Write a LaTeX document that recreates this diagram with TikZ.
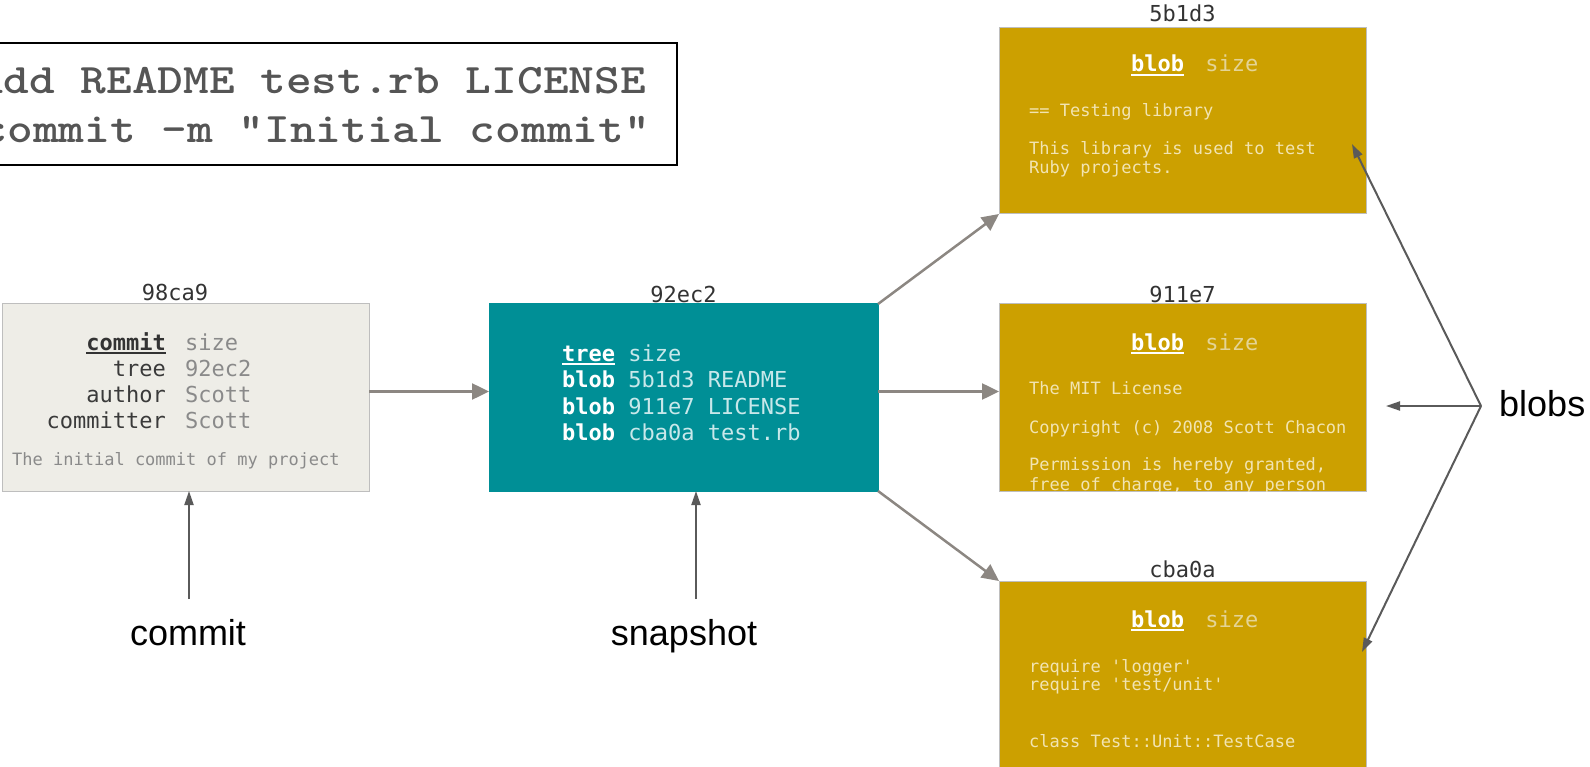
\documentclass[tikz,border=0pt]{standalone}
\usepackage{fontspec}
\usepackage{graphicx}
\setmainfont{Liberation Sans}
\newfontfamily\codefont{DejaVu Sans Mono}
\usetikzlibrary{arrows.meta}

\definecolor{commitfill}{RGB}{238,237,231}
\definecolor{boxedge}{RGB}{190,190,190}
\definecolor{treefill}{RGB}{0,143,150}
\definecolor{blobfill}{RGB}{204,160,0}
\definecolor{hashtext}{RGB}{51,51,51}
\definecolor{keytext}{RGB}{58,58,58}
\definecolor{valtext}{RGB}{138,138,138}
\definecolor{treeval}{RGB}{200,232,234}
\definecolor{blobsize}{RGB}{228,212,150}
\definecolor{blobbody}{RGB}{242,228,178}
\definecolor{linkgray}{RGB}{140,135,130}
\definecolor{notegray}{RGB}{90,90,90}
\definecolor{cmdtext}{RGB}{85,85,85}

% underline drawn as a rule a little below the baseline
\newcommand\undl[1]{\sbox0{#1}\rlap{\usebox0}\rule[-4pt]{\wd0}{1.8pt}}
% header line of a blob object
\newcommand\blobhead{\textbf{\undl{blob}}\ \hspace{8pt}{\color{blobsize}size}}

\tikzset{
  objbox/.style={rectangle, draw=boxedge, line width=1pt, inner sep=0pt,
    outer sep=0pt, anchor=north west},
  hashlbl/.style={font=\codefont\fontsize{22}{26}\selectfont, text=hashtext,
    inner sep=0pt, anchor=base},
  field/.style={font=\codefont\fontsize{22}{26}\selectfont, inner sep=0pt,
    anchor=base west},
  keyfield/.style={field, anchor=base east, text=keytext},
  valfield/.style={field, text=valtext},
  bodytxt/.style={font=\codefont\fontsize{17}{20}\selectfont, text=blobbody,
    inner sep=0pt, anchor=base west},
  link/.style={draw=linkgray, line width=2.5pt, -{Triangle[length=17pt,width=16pt]}},
  note/.style={draw=notegray, line width=2pt, -{Triangle[length=14pt,width=9pt]}},
  notelbl/.style={font=\fontsize{36}{40}\selectfont, text=black, inner sep=0pt},
  cmdline/.style={font=\ttfamily\bfseries\fontsize{42}{48}\selectfont,
    text=cmdtext, inner sep=0pt, anchor=base east},
}

\begin{document}
\begin{tikzpicture}[x=1pt,y=-1pt]
\clip (0,0) rectangle (1590,767);

% command box
\node[draw=black, line width=2pt, fill=white, inner sep=0pt, outer sep=0pt,
  minimum width=690pt, minimum height=122pt, anchor=north west] (cmdbox) at (-13,43) {};
\node[cmdline] (cmdadd) at (646,94) {\scalebox{1.165}[1]{add README test.rb LICENSE}};
\node[cmdline] (cmdcommit) at (650,143) {\scalebox{1.165}[1]{commit -m "Initial commit"}};

% object boxes
\node[objbox, fill=commitfill, minimum width=367pt, minimum height=187pt] (commitbox) at (2,304) {};
\node[objbox, fill=treefill, draw=treefill, minimum width=389pt, minimum height=187pt] (treebox) at (489,304) {};
\node[objbox, fill=blobfill, minimum width=367pt, minimum height=186pt] (blobA) at (999,28) {};
\node[objbox, fill=blobfill, minimum width=367pt, minimum height=187pt] (blobB) at (999,304) {};
\node[objbox, fill=blobfill, minimum width=367pt, minimum height=219pt] (blobC) at (999,581) {};

% object hashes
\node[hashlbl] (h98ca9) at (175,301) {98ca9};
\node[hashlbl] (h92ec2) at (683.5,302) {92ec2};
\node[hashlbl] (h5b1d3) at (1182.5,22) {5b1d3};
\node[hashlbl] (h911e7) at (1182.5,302) {911e7};
\node[hashlbl] (hcba0a) at (1182.5,577) {cba0a};

% commit object
\node[keyfield, text=hashtext] (ck1) at (166,350) {\textbf{\undl{commit}}};
\node[keyfield] (ck2) at (166,376) {tree};
\node[keyfield] (ck3) at (166,402) {author};
\node[keyfield] (ck4) at (166,428) {committer};
\node[valfield] (cv1) at (185,350) {size};
\node[valfield] (cv2) at (185,376) {92ec2};
\node[valfield] (cv3) at (185,402) {Scott};
\node[valfield] (cv4) at (185,428) {Scott};
\node[bodytxt, text=valtext] (cmsg) at (12,465) {The initial commit of my project};

% tree object
\node[field, text=white] (tl1) at (562,361) {\textbf{\undl{tree}} {\color{treeval}size}};
\node[field, text=white] (tl2) at (562,387) {\textbf{blob} {\color{treeval}5b1d3 README}};
\node[field, text=white] (tl3) at (562,414) {\textbf{blob} {\color{treeval}911e7 LICENSE}};
\node[field, text=white] (tl4) at (562,440) {\textbf{blob} {\color{treeval}cba0a test.rb}};

% blob 5b1d3
\node[field, text=white] (ahead) at (1131,72) {\blobhead};
\node[bodytxt] (a1) at (1029,117) {== Testing library};
\node[bodytxt] (a2) at (1029,155) {This library is used to test};
\node[bodytxt] (a3) at (1029,174) {Ruby projects.};

% blob 911e7 (text runs past the bottom edge)
\node[field, text=white] (bhead) at (1131,350) {\blobhead};
\begin{scope}
  \clip (blobB.north west) rectangle (blobB.south east);
  \node[bodytxt] (b1) at (1029,394) {The MIT License};
  \node[bodytxt] (b2) at (1029,433) {Copyright (c) 2008 Scott Chacon};
  \node[bodytxt] (b3) at (1029,470) {Permission is hereby granted,};
  \node[bodytxt] (b4) at (1029,490) {free of charge, to any person};
\end{scope}

% blob cba0a
\node[field, text=white] (chead) at (1131,627) {\blobhead};
\node[bodytxt] (c1) at (1029,672) {require 'logger'};
\node[bodytxt] (c2) at (1029,690) {require 'test/unit'};
\node[bodytxt] (c3) at (1029,747) {class Test::Unit::TestCase};

% references between objects
\draw[link] ([yshift=6pt]commitbox.east) -- ([yshift=6pt]treebox.west);
\draw[link] ([yshift=6pt]treebox.east) -- ([yshift=6pt]blobB.west);
\draw[link] (treebox.north east) -- (blobA.south west);
\draw[link] (treebox.south east) -- (blobC.north west);

% annotations
\node[notelbl, anchor=base] (lblcommit) at (188,645) {commit};
\node[notelbl, anchor=base] (lblsnap) at (684,645) {snapshot};
\node[notelbl, anchor=base west] (lblblobs) at (1499,416) {blobs};

\coordinate (commitfoot) at (189,599);
\coordinate (snapfoot) at (696,599);
\coordinate (hub) at (1481,406);
\draw[note] (commitfoot) -- (commitfoot |- commitbox.south);
\draw[note] (snapfoot) -- (snapfoot |- treebox.south);
\draw[note] (hub) -- ([xshift=-14pt,yshift=-23pt]blobA.east);
\draw[note] (hub) -- ([xshift=20pt]blobB.east |- hub);
\draw[note] (hub) -- ([xshift=-4pt,yshift=38.5pt]blobC.east);
\end{tikzpicture}
\end{document}
